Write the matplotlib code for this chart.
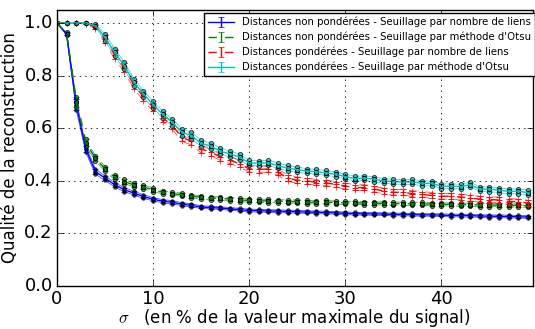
import numpy as np
import matplotlib
matplotlib.use('Agg')
import matplotlib.pyplot as plt

plt.style.use('classic')

sigma = list(range(50))

# Distances non pondérées - nombre de liens (bleu)
nonp_nb = [1.0, 0.958, 0.69, 0.52, 0.435, 0.41, 0.385, 0.366, 0.353, 0.340,
           0.330, 0.322, 0.318, 0.311, 0.306, 0.300, 0.298, 0.296, 0.293, 0.290,
           0.287, 0.286, 0.285, 0.284, 0.283, 0.282, 0.281, 0.280, 0.279, 0.278,
           0.276, 0.275, 0.274, 0.274, 0.273, 0.272, 0.272, 0.271, 0.270, 0.270,
           0.269, 0.268, 0.268, 0.267, 0.266, 0.265, 0.265, 0.264, 0.263, 0.262]
nonp_nb_std = [0.0, 0.004, 0.02, 0.012, 0.01, 0.009, 0.008, 0.008, 0.007, 0.007,
               0.006, 0.006, 0.006, 0.006, 0.006, 0.005, 0.005, 0.005, 0.005, 0.005,
               0.005, 0.005, 0.005, 0.005, 0.005, 0.005, 0.005, 0.005, 0.005, 0.005,
               0.005, 0.005, 0.005, 0.005, 0.005, 0.005, 0.005, 0.005, 0.005, 0.005,
               0.005, 0.005, 0.005, 0.005, 0.005, 0.005, 0.005, 0.005, 0.005, 0.005]

# Distances non pondérées - Otsu (vert)
nonp_otsu = [1.0, 0.96, 0.70, 0.545, 0.485, 0.445, 0.413, 0.397, 0.384, 0.376,
             0.366, 0.356, 0.351, 0.347, 0.341, 0.337, 0.334, 0.333, 0.330, 0.327,
             0.325, 0.324, 0.323, 0.322, 0.321, 0.321, 0.319, 0.318, 0.319, 0.317,
             0.316, 0.316, 0.315, 0.314, 0.314, 0.313, 0.313, 0.312, 0.312, 0.311,
             0.310, 0.310, 0.309, 0.309, 0.308, 0.308, 0.307, 0.306, 0.306, 0.305]
nonp_otsu_std = [0.0, 0.005, 0.02, 0.012, 0.01, 0.009, 0.008, 0.008, 0.007, 0.007,
                 0.007, 0.006, 0.006, 0.006, 0.006, 0.006, 0.006, 0.006, 0.006, 0.006,
                 0.006, 0.006, 0.006, 0.006, 0.006, 0.006, 0.006, 0.006, 0.006, 0.006,
                 0.006, 0.006, 0.006, 0.006, 0.006, 0.006, 0.006, 0.006, 0.006, 0.006,
                 0.006, 0.006, 0.006, 0.006, 0.006, 0.006, 0.006, 0.006, 0.006, 0.006]

# Distances pondérées - nombre de liens (rouge)
pond_nb = [1.0, 1.0, 1.0, 0.998, 0.985, 0.94, 0.88, 0.83, 0.765, 0.72,
           0.68, 0.64, 0.61, 0.565, 0.55, 0.52, 0.51, 0.49, 0.478, 0.465,
           0.445, 0.443, 0.445, 0.433, 0.41, 0.402, 0.40, 0.393, 0.392, 0.386,
           0.38, 0.374, 0.374, 0.368, 0.361, 0.356, 0.356, 0.351, 0.348, 0.344,
           0.341, 0.341, 0.338, 0.334, 0.33, 0.328, 0.327, 0.321, 0.32, 0.315]
pond_nb_std = [0.0, 0.0, 0.0, 0.002, 0.006, 0.015, 0.016, 0.016, 0.015, 0.015,
               0.015, 0.015, 0.015, 0.015, 0.014, 0.014, 0.014, 0.013, 0.013, 0.013,
               0.012, 0.012, 0.012, 0.012, 0.012, 0.012, 0.011, 0.011, 0.011, 0.011,
               0.011, 0.011, 0.011, 0.011, 0.011, 0.011, 0.011, 0.011, 0.011, 0.011,
               0.011, 0.011, 0.011, 0.011, 0.011, 0.011, 0.011, 0.011, 0.011, 0.011]

# Distances pondérées - Otsu (cyan)
pond_otsu = [1.0, 1.0, 1.0, 1.0, 0.99, 0.945, 0.888, 0.838, 0.775, 0.73,
             0.69, 0.652, 0.622, 0.585, 0.572, 0.542, 0.532, 0.512, 0.502, 0.49,
             0.468, 0.467, 0.468, 0.457, 0.448, 0.442, 0.437, 0.434, 0.43, 0.424,
             0.416, 0.408, 0.41, 0.406, 0.399, 0.397, 0.395, 0.396, 0.39, 0.39,
             0.379, 0.379, 0.378, 0.385, 0.369, 0.368, 0.364, 0.36, 0.36, 0.355]
pond_otsu_std = [0.0, 0.0, 0.0, 0.0, 0.005, 0.013, 0.014, 0.014, 0.013, 0.013,
                 0.013, 0.013, 0.013, 0.013, 0.012, 0.012, 0.012, 0.012, 0.011, 0.011,
                 0.01, 0.01, 0.01, 0.01, 0.01, 0.01, 0.009, 0.009, 0.009, 0.009,
                 0.009, 0.009, 0.009, 0.009, 0.009, 0.009, 0.009, 0.009, 0.009, 0.009,
                 0.009, 0.009, 0.009, 0.009, 0.009, 0.009, 0.009, 0.009, 0.009, 0.009]

labels = ['Distances non pondérées - Seuillage par nombre de liens',
          'Distances non pondérées - Seuillage par méthode d\'Otsu',
          'Distances pondérées - Seuillage par nombre de liens',
          'Distances pondérées - Seuillage par méthode d\'Otsu']

fig = plt.figure(figsize=(5.35, 3.29), dpi=100, facecolor='white')
ax = fig.add_axes([0.1065, 0.131, 0.889, 0.839])

series = [
    (nonp_nb, nonp_nb_std, 'b', '-', 'o', 'k', 2.5),
    (nonp_otsu, nonp_otsu_std, 'g', '--', 'o', 'g', 3),
    (pond_nb, pond_nb_std, 'r', '--', '+', 'r', 4),
    (pond_otsu, pond_otsu_std, 'c', '-', 'o', 'c', 3),
]

x = np.array(sigma)
for (m, s, c, ls, mk, mfc, ms), lab in zip(series, labels):
    m = np.array(m)
    s = np.array(s)
    ax.errorbar(x, m, yerr=s, color=c, ls=ls, lw=1, capsize=2, label=lab)
    for b in (m - s, m + s):
        ax.plot(x, b, color=c, ls=ls, lw=0.6, alpha=0.7,
                marker=mk, mfc=mfc, mec='k' if mk == 'o' else c, mew=0.7, ms=ms)
    ax.plot(x, m, ls='none', marker=mk, mfc=mfc,
            mec='k' if mk == 'o' else c, mew=0.7, ms=ms)

ax.set_xlim(0, 49.5)
ax.set_ylim(0, 1.05)
ax.set_xticks([0, 10, 20, 30, 40])
ax.set_yticks([0.0, 0.2, 0.4, 0.6, 0.8, 1.0])
ax.tick_params(labelsize=13, pad=3)
ax.grid(True, ls=':', color='k', lw=0.6)
ax.set_xlabel(r'$\sigma$   (en % de la valeur maximale du signal)', fontsize=12, labelpad=-1)
ax.set_ylabel('Qualité de la reconstruction', fontsize=12, labelpad=4)

leg = ax.legend(loc='upper right', fontsize=7.3, numpoints=1, handlelength=2.5,
                bbox_to_anchor=(1.005, 0.99), borderaxespad=0.0,
                labelspacing=0.45, framealpha=1)

fig.savefig('out.png', dpi=100, facecolor='white')
